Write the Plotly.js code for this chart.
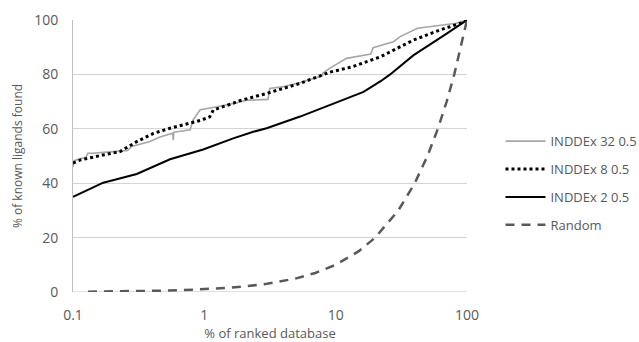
<!DOCTYPE html>
<html>
<head>
<meta charset="utf-8">
<script src="https://cdn.plot.ly/plotly-3.0.1.min.js"></script>
<style>html,body{margin:0;padding:0;background:#fff;}#chart{width:639px;height:342px;}</style>
</head>
<body>
<div id="chart"></div>
<script>
// INDDEx 32 0.5 (gray)
var x32 = [0.1, 0.102, 0.11, 0.125, 0.13, 0.14, 0.19, 0.26, 0.28, 0.33, 0.385, 0.46, 0.575, 0.58, 0.585, 0.6, 0.78, 0.82, 0.93, 1.25, 1.4, 1.7, 2.1, 3.05, 3.15, 4.0, 5.4, 7.9, 8.0, 9.0, 12.1, 14.4, 18.5, 19.3, 27.5, 31, 37.5, 42, 59, 83, 100];
var y32 = [46, 48.3, 48.8, 49.5, 51, 51, 51.5, 52, 53.5, 54.5, 55.3, 57, 58.4, 55.8, 58.6, 58.8, 59.6, 63.2, 67, 68.1, 68.5, 69.4, 70.5, 70.8, 74.8, 75.5, 77, 79.5, 80.5, 82.2, 85.9, 86.5, 87.5, 89.8, 92, 93.9, 95.7, 97, 97.9, 98.8, 100];
// INDDEx 8 0.5 (dotted)
var x8 = [0.1, 0.113, 0.17, 0.228, 0.306, 0.41, 0.548, 0.735, 0.95, 1.1, 1.17, 1.66, 1.88, 2.98, 5.36, 9.0, 13.4, 22, 39, 62, 93, 100];
var y8 = [47.4, 48.5, 50.4, 51.6, 55.3, 58.3, 60.2, 61.8, 63.2, 64.4, 66.9, 69.4, 70.4, 73, 76.7, 80.8, 82.8, 86.5, 92.6, 96.3, 99.1, 100];
// INDDEx 2 0.5 (black)
var x2 = [0.1, 0.17, 0.306, 0.548, 0.98, 1.66, 2.36, 2.98, 5.36, 9.0, 16.3, 22, 26, 39, 52, 70, 100];
var y2 = [35, 40.2, 43.4, 48.8, 52.4, 56.5, 58.9, 60.2, 64.5, 68.8, 73.6, 77.5, 80, 87, 90.8, 95, 100];
// Random
var xr = [0.13, 0.2, 0.3, 0.5, 0.7, 1, 1.5, 2, 3, 5, 7, 10, 15, 20, 30, 40, 50, 60, 70, 80, 90, 100];
var yr = [0.13, 0.2, 0.3, 0.5, 0.7, 1, 1.5, 2, 3, 5, 7, 10, 15, 20, 30, 40, 50, 60, 70, 80, 90, 100];

var names = ['INDDEx 32 0.5', 'INDDEx 8 0.5', 'INDDEx 2 0.5', 'Random'];
var xTicks = [0.1, 1, 10, 100];
var xTickText = ['0.1', '1', '10', '100'];
var yTicks = [0, 20, 40, 60, 80, 100];

var txt = '#595959';
var font = 'Open Sans, Liberation Sans, sans-serif';

var traces = [
  {x: x32, y: y32, name: names[0], legendgroup: 'a', mode: 'lines', line: {color: '#a6a6a6', width: 1.6}},
  {x: x8, y: y8, name: names[1], legendgroup: 'b', mode: 'lines', line: {color: '#000000', width: 3, dash: 'dot'}},
  {x: x2, y: y2, name: names[2], legendgroup: 'c', mode: 'lines', line: {color: '#000000', width: 2}},
  {x: xr, y: yr, name: names[3], legendgroup: 'd', mode: 'lines', line: {color: '#595959', width: 2.5, dash: '9px,7px'}}
];

var layout = {
  width: 639, height: 342,
  margin: {l: 73, r: 172, t: 20, b: 50, autoexpand: false},
  paper_bgcolor: '#ffffff', plot_bgcolor: '#ffffff',
  font: {family: font, color: txt, size: 12},
  showlegend: true,
  legend: {x: 1.085, xanchor: 'left', y: 0.40, yanchor: 'middle', traceorder: 'grouped', tracegroupgap: 8,
           font: {size: 13, color: txt, family: font}, itemwidth: 40, bgcolor: 'rgba(0,0,0,0)'},
  xaxis: {
    type: 'log', range: [-1, 2], tickvals: xTicks, ticktext: xTickText,
    showgrid: false, zeroline: false, showline: false, ticks: 'outside', ticklen: 10, tickcolor: 'rgba(0,0,0,0)',
    tickfont: {size: 14, color: txt},
    title: {text: '% of ranked database', font: {size: 13, color: txt}, standoff: 8}
  },
  yaxis: {
    range: [0, 100], tickvals: yTicks, showgrid: true, gridcolor: '#d4d4d4', gridwidth: 1,
    zeroline: false, showline: true, linecolor: '#bfbfbf', linewidth: 1, ticks: 'outside', ticklen: 11, tickcolor: 'rgba(0,0,0,0)',
    tickfont: {size: 14, color: txt},
    title: {text: '% of known ligands found', font: {size: 12, color: txt}, standoff: 8}
  },
  shapes: [
    {type: 'line', xref: 'paper', yref: 'y', x0: 0, x1: 1, y0: 0, y1: 0, line: {color: '#bfbfbf', width: 1}, layer: 'below'}
  ]
};

Plotly.newPlot('chart', traces, layout, {staticPlot: true, displayModeBar: false});
</script>
</body>
</html>
